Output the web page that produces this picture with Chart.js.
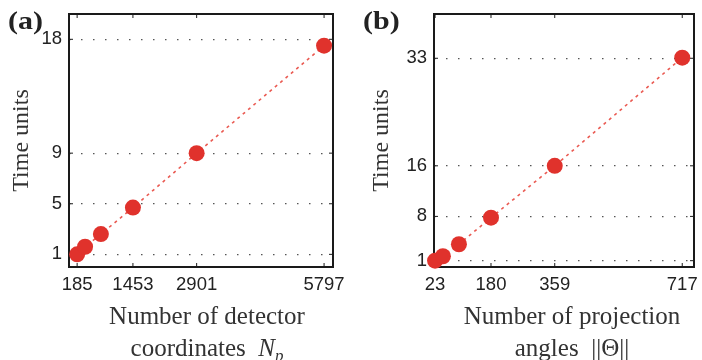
<!DOCTYPE html>
<html>
<head>
<meta charset="utf-8">
<script src="https://cdn.jsdelivr.net/npm/chart.js@4.4.1/dist/chart.umd.min.js"></script>
<style>
  html, body { margin: 0; padding: 0; background: #ffffff; }
  #wrap { position: relative; width: 702px; height: 360px; overflow: hidden; background: #fff; }
  canvas { position: absolute; top: 0; }
  .lbl { position: absolute; font-family: "Liberation Serif", "Times New Roman", serif; font-weight: bold; font-size: 25px; line-height: 25px; color: #222; transform: scaleX(1.2); transform-origin: left top; }
  .xt { position: absolute; width: 320px; text-align: center; font-family: "Liberation Serif", "Times New Roman", serif; font-size: 25px; line-height: 32px; color: #333; white-space: nowrap; }
  .xt sub { font-size: 17px; line-height: 0; vertical-align: -5px; }
</style>
</head>
<body>
<div id="wrap">
  <canvas id="ca" width="351" height="360" style="left:0px"></canvas>
  <canvas id="cb" width="351" height="360" style="left:351px"></canvas>
  <div class="lbl" style="left:8px; top:8px;">(a)</div>
  <div class="lbl" style="left:363px; top:8px;">(b)</div>
  <div class="xt" style="left:47px; top:300px;">Number of detector<br>coordinates&nbsp; <i>N</i><sub><i>p</i></sub></div>
  <div class="xt" style="left:412px; top:300px;">Number of projection<br>angles&nbsp; ||Θ||</div>
</div>
<script>
// Panel (a): detector coordinates
const detectorCoords = [185, 365, 725, 1453, 2901, 5797];
const timeA = [1.0, 1.6, 2.6, 4.7, 9.0, 17.5];
const xTicksA = [185, 1453, 2901, 5797];
const yTicksA = [1, 5, 9, 18];

// Panel (b): projection angles
const projectionAngles = [23, 45, 90, 180, 359, 717];
const timeB = [1.0, 1.7, 3.6, 7.8, 16.0, 33.1];
const xTicksB = [23, 180, 359, 717];
const yTicksB = [1, 8, 16, 33];

const RED = '#e0322c';
const LINE_RED = '#ea5a52';

const boxPlugin = {
  id: 'boxPlugin',
  beforeDatasetsDraw(chart) {
    const ctx = chart.ctx;
    const a = chart.chartArea;
    const xs = chart.scales.x, ys = chart.scales.y;
    ctx.save();
    ctx.strokeStyle = '#1a1a1a';
    ctx.lineWidth = 1;
    const line = (x1, y1, x2, y2) => { ctx.beginPath(); ctx.moveTo(x1, y1); ctx.lineTo(x2, y2); ctx.stroke(); };
    xs.ticks.forEach(t => {
      const px = xs.getPixelForValue(t.value);
      line(px, a.top, px, a.top + 4);
      line(px, a.bottom, px, a.bottom - 4);
    });
    ys.ticks.forEach(t => {
      const py = ys.getPixelForValue(t.value);
      line(a.left, py, a.left + 4, py);
      line(a.right, py, a.right - 4, py);
    });
    ctx.lineWidth = 2;
    ctx.strokeRect(a.left, a.top, a.right - a.left, a.bottom - a.top);
    ctx.restore();
  }
};

function makeChart(id, xs, ys, xTicks, yTicks, xMin, xMax, yMax, yAxisWidth, titlePad, padRight) {
  return new Chart(document.getElementById(id), {
    type: 'scatter',
    data: {
      datasets: [{
        data: xs.map((v, i) => ({ x: v, y: ys[i] })),
        showLine: true,
        borderColor: LINE_RED,
        borderWidth: 1.6,
        borderDash: [3, 4],
        pointRadius: 8,
        pointHoverRadius: 8,
        pointBackgroundColor: RED,
        pointBorderColor: RED,
        pointBorderWidth: 0,
        clip: false
      }]
    },
    options: {
      responsive: false,
      animation: false,
      devicePixelRatio: 1,
      layout: { padding: { left: 0, top: 14, right: padRight, bottom: 0 } },
      plugins: { legend: { display: false }, tooltip: { enabled: false } },
      scales: {
        x: {
          type: 'linear', position: 'bottom', min: xMin, max: xMax,
          afterBuildTicks: s => { s.ticks = xTicks.map(v => ({ value: v })); },
          afterFit: s => { s.height = 93; s.paddingLeft = 0; s.paddingRight = 0; },
          grid: { display: false, drawTicks: false },
          border: { display: false },
          ticks: { color: '#222', padding: 7, font: { family: 'Liberation Sans', size: 18.5 }, maxRotation: 0, autoSkip: false, callback: v => String(v) }
        },
        y: {
          type: 'linear', position: 'left', min: 0, max: yMax,
          afterBuildTicks: s => { s.ticks = yTicks.map(v => ({ value: v })); },
          afterFit: s => { s.width = yAxisWidth; s.paddingTop = 0; s.paddingBottom = 0; },
          grid: { color: '#555', lineWidth: 1.3, drawTicks: false },
          border: { display: false, dash: [1.5, 10.5] },
          ticks: { color: '#222', padding: 7, font: { family: 'Liberation Sans', size: 18.5 }, autoSkip: false, callback: v => String(v) },
          title: { display: true, text: 'Time units', color: '#333', font: { family: 'Liberation Serif', size: 24 }, padding: { top: titlePad, bottom: 0 } }
        }
      }
    },
    plugins: [boxPlugin]
  });
}

makeChart('ca', detectorCoords, timeA, xTicksA, yTicksA, 0, 6000, 20, 69, 7.6, 18);
makeChart('cb', projectionAngles, timeB, xTicksB, yTicksB, 20, 750, 40, 83, 16.6, 6);
</script>
</body>
</html>
